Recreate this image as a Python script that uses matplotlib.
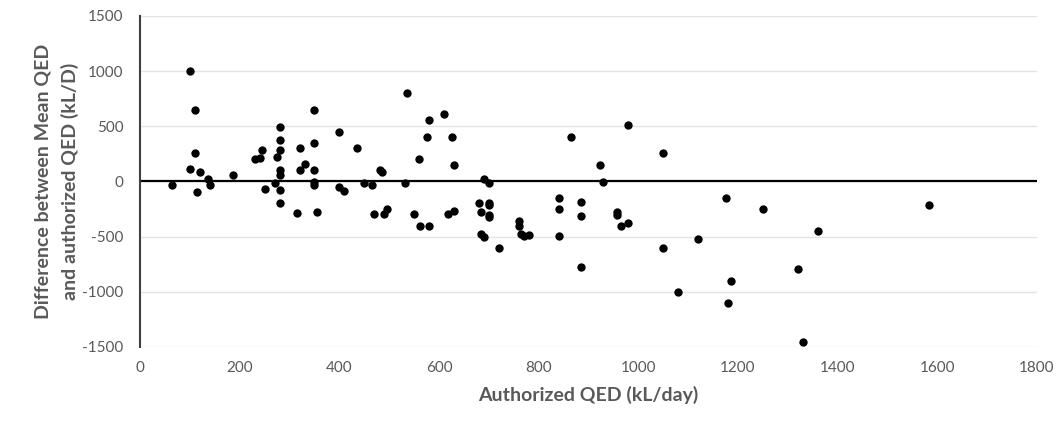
import matplotlib.pyplot as plt

# values
authorized_qed = [65, 100, 110, 110, 100, 120, 115, 136, 140, 186,
                  230, 240, 245, 250, 270, 274, 281, 281, 281, 281,
                  281, 281, 281, 315, 321, 321, 331, 350, 350, 350,
                  350, 350, 355, 400, 400, 410, 435, 450, 466, 469,
                  481, 486, 490, 495, 531, 535, 550, 559, 561, 576,
                  580, 580, 611, 619, 626, 631, 631, 680, 685, 685,
                  691, 690, 701, 701, 701, 701, 701, 720, 760, 760,
                  770, 780, 765, 840, 840, 840, 865, 884, 884, 884,
                  924, 930, 958, 958, 965, 980, 980, 1050, 1050, 1080,
                  1120, 1175, 1186, 1181, 1250, 1320, 1331, 1360, 1583]
difference = [-30, 1000, 650, 254, 112, 85, -100, 22, -30, 55,
              200, 212, 282, -70, -18, 218, 490, 372, 282, 100,
              55, -75, -193, -284, 306, 100, 155, 650, 351, 100,
              -3, -30, -278, 451, -48, -87, 306, -18, -30, -296,
              100, 85, -296, -248, -18, 805, -296, 203, -402, 403,
              557, -408, 611, -296, 403, 152, -272, -193, -281, -478,
              -508, 24, -18, -193, -215, -302, -323, -599, -363, -402,
              -495, -481, -478, -151, -248, -495, 403, -190, -311, -780,
              152, -5, -280, -300, -402, 514, -378, 254, -599, -998,
              -520, -151, -901, -1098, -248, -795, -1452, -450, -209]

xticks = [0, 200, 400, 600, 800, 1000, 1200, 1400, 1600, 1800]
yticks = [-1500, -1000, -500, 0, 500, 1000, 1500]

plt.rcParams['font.family'] = ['Lato', 'DejaVu Sans']
plt.rcParams['axes.unicode_minus'] = False

fig = plt.figure(figsize=(10.57, 4.21), dpi=100)
ax = fig.add_axes([0.1325, 0.176, 0.8485, 0.786])

ax.scatter(authorized_qed, difference, s=36, color='black', zorder=3, linewidths=0)
ax.axhline(0, color='black', lw=1.6, zorder=2)

ax.set_xlim(0, 1800)
ax.set_ylim(-1500, 1500)
ax.set_xticks(xticks)
ax.set_yticks(yticks)
ax.grid(axis='y', color='#e4e4e4', lw=1)
ax.set_axisbelow(True)
ax.tick_params(length=0, labelsize=11, colors='#595959', pad=12)
ax.tick_params(axis='x', pad=10)

for side in ['top', 'right', 'bottom']:
    ax.spines[side].set_visible(False)
ax.spines['left'].set_color('#404040')
ax.spines['left'].set_linewidth(1.5)

ax.set_xlabel('Authorized QED (kL/day)', fontsize=14, fontweight='bold', color='#595959', labelpad=8)
ax.set_ylabel('Difference between Mean QED\nand authorized QED (kL/D)', fontsize=14,
              fontweight='bold', color='#595959', labelpad=2, linespacing=1.65)

fig.savefig('out.png', dpi=100)
